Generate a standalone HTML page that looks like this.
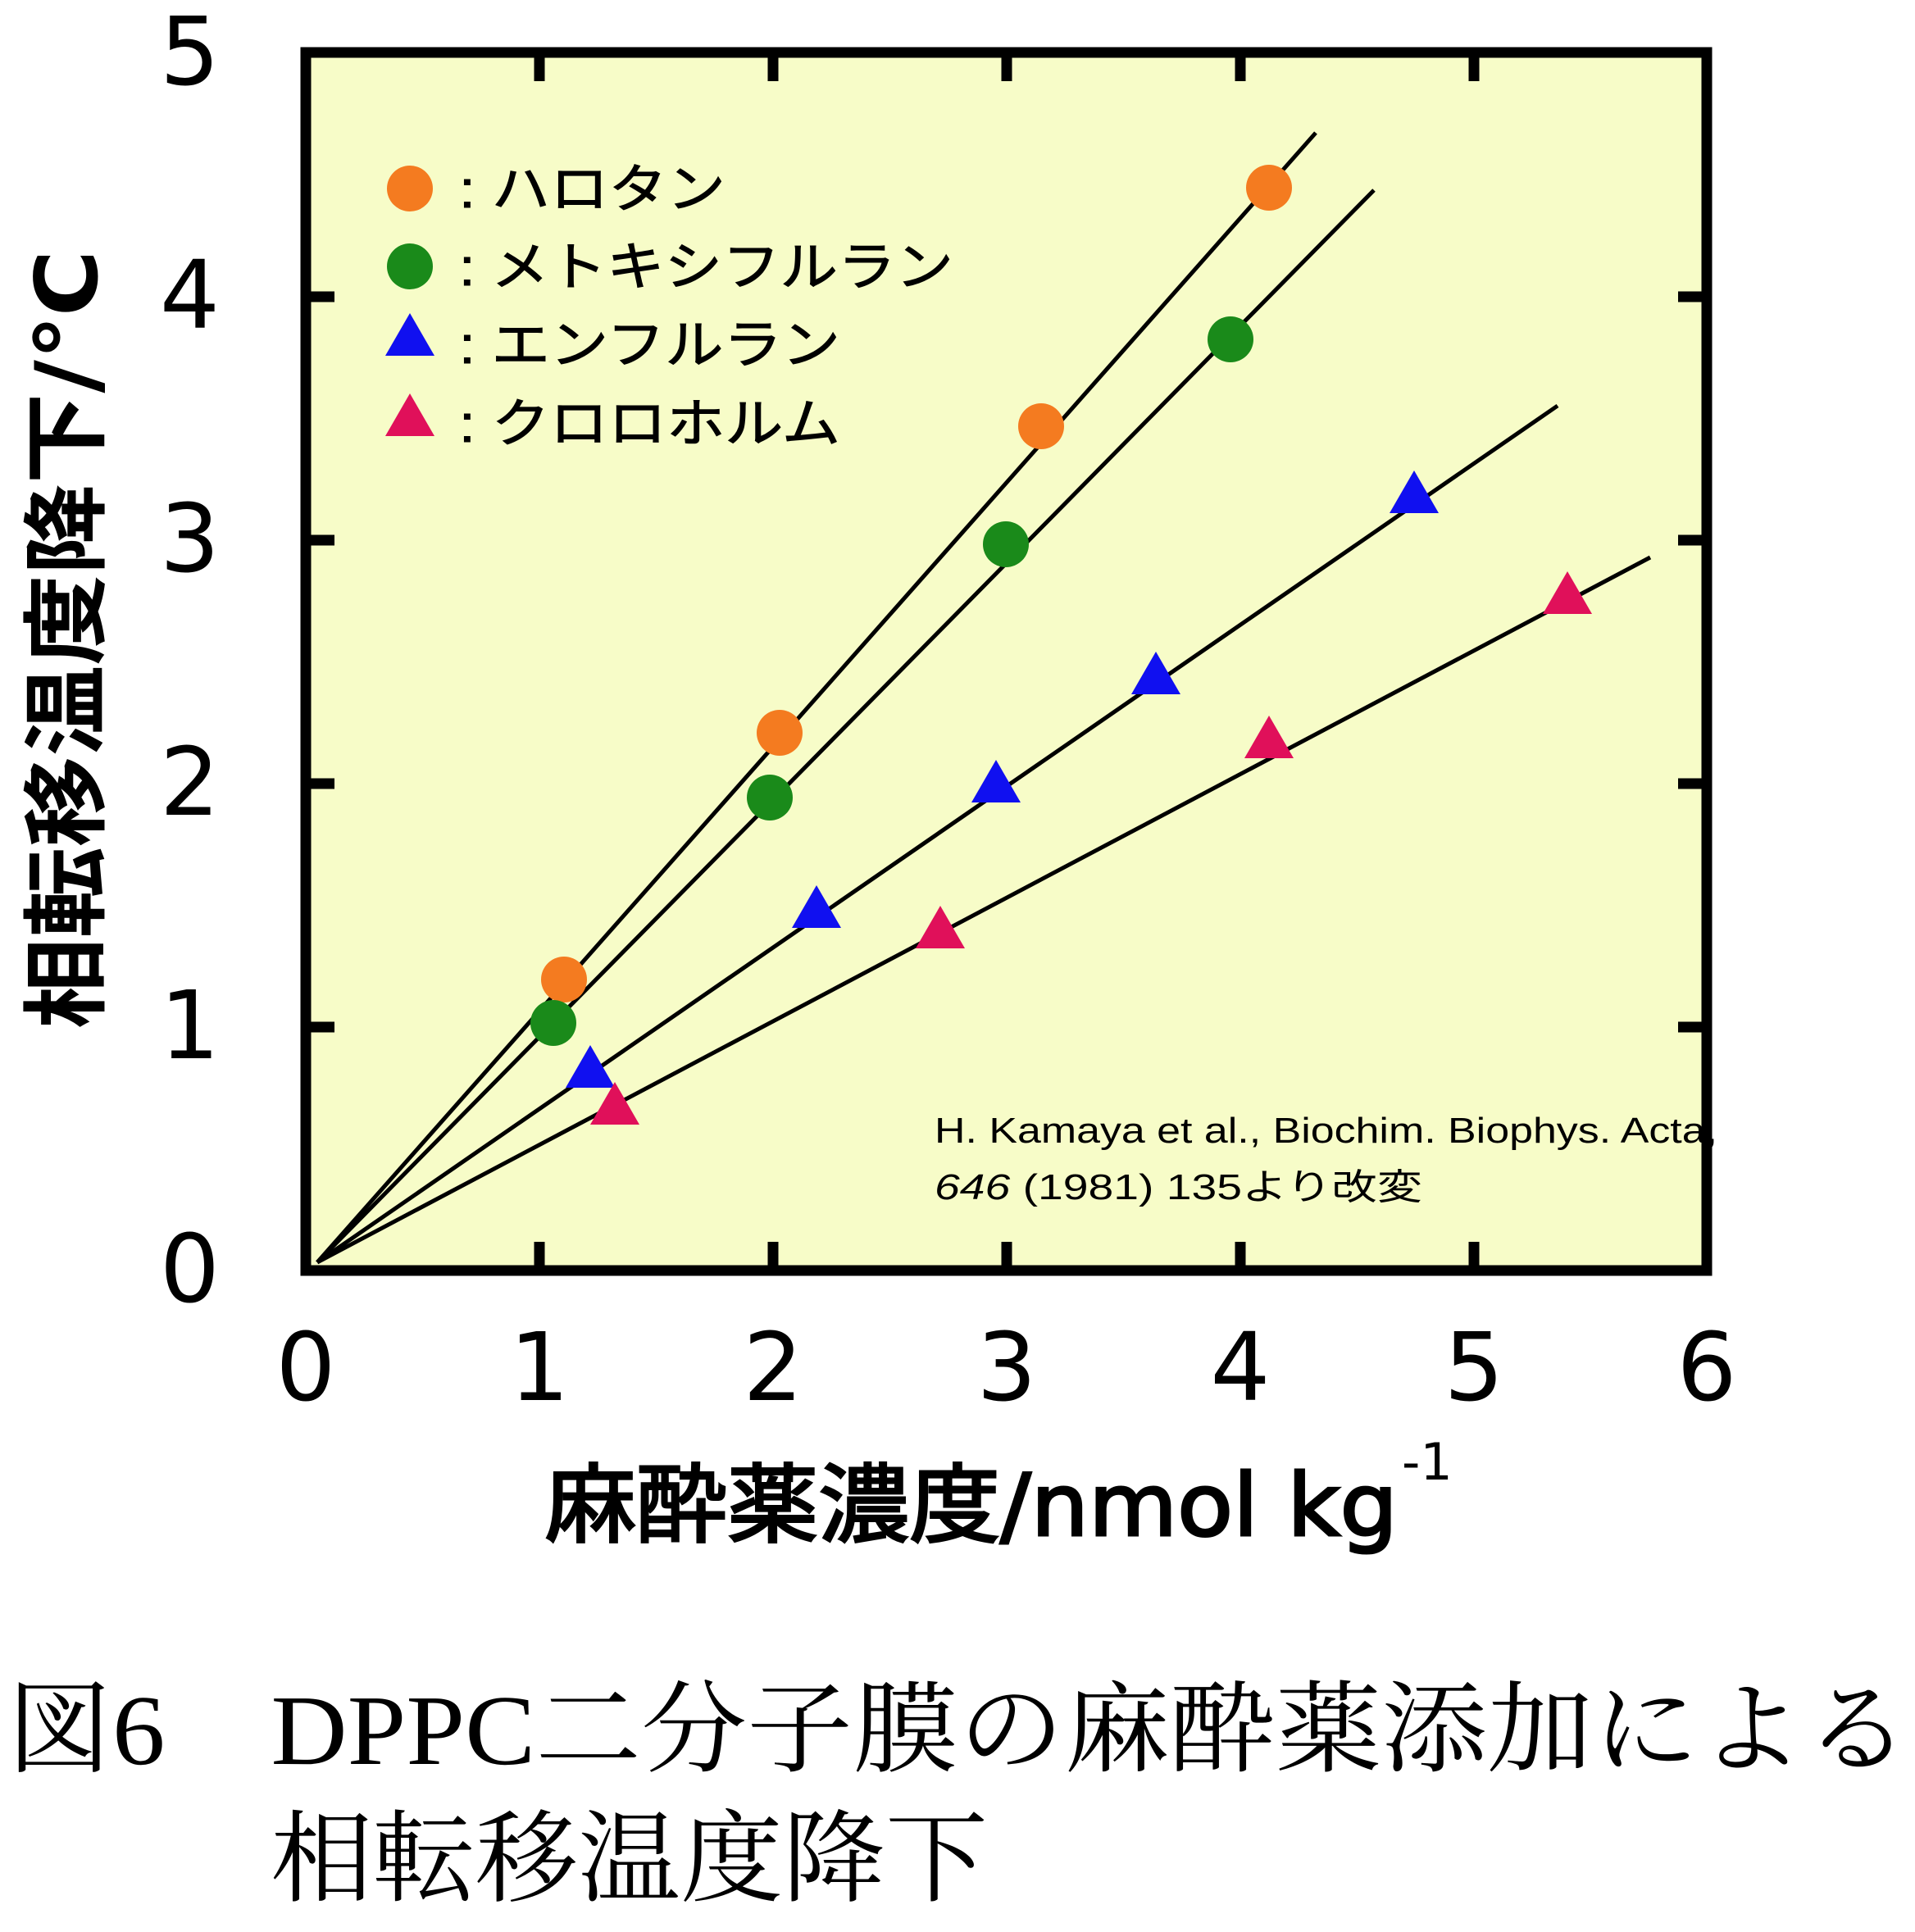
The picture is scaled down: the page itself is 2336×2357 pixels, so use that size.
<!DOCTYPE html>
<html><head><meta charset="utf-8"><style>html,body{margin:0;padding:0;background:#fff}svg{display:block}</style></head>
<body>
<svg width="2336" height="2357" viewBox="0 0 2336 2357" xmlns="http://www.w3.org/2000/svg">
<rect x="373" y="64" width="1709" height="1486" fill="#f7fcc8"/>
<g stroke="#000" stroke-width="13">
<line x1="658" y1="1550" x2="658" y2="1515"/><line x1="943" y1="1550" x2="943" y2="1515"/><line x1="1228" y1="1550" x2="1228" y2="1515"/><line x1="1513" y1="1550" x2="1513" y2="1515"/><line x1="1798" y1="1550" x2="1798" y2="1515"/>
<line x1="658" y1="64" x2="658" y2="99"/><line x1="943" y1="64" x2="943" y2="99"/><line x1="1228" y1="64" x2="1228" y2="99"/><line x1="1513" y1="64" x2="1513" y2="99"/><line x1="1798" y1="64" x2="1798" y2="99"/>
<line x1="373" y1="1253" x2="408" y2="1253"/><line x1="373" y1="956" x2="408" y2="956"/><line x1="373" y1="659" x2="408" y2="659"/><line x1="373" y1="362" x2="408" y2="362"/>
<line x1="2082" y1="1253" x2="2047" y2="1253"/><line x1="2082" y1="956" x2="2047" y2="956"/><line x1="2082" y1="659" x2="2047" y2="659"/><line x1="2082" y1="362" x2="2047" y2="362"/>
</g>
<g stroke="#000" stroke-width="5">
<line x1="387" y1="1540" x2="1605" y2="162"/>
<line x1="387" y1="1540" x2="1676" y2="232"/>
<line x1="387" y1="1540" x2="1900" y2="495"/>
<line x1="387" y1="1540" x2="2013" y2="680"/>
</g>
<g fill="#f47b20"><circle cx="688" cy="1195" r="28"/><circle cx="951" cy="894" r="28"/><circle cx="1270" cy="520" r="28"/><circle cx="1548" cy="229" r="28"/><circle cx="500" cy="230" r="28"/></g>
<g fill="#1a8a1a"><circle cx="675" cy="1248" r="28"/><circle cx="939" cy="973" r="28"/><circle cx="1227" cy="664" r="28"/><circle cx="1501" cy="414" r="28"/><circle cx="500" cy="325" r="28"/></g>
<defs><path id="tri" d="M0,-30 L30,22 L-30,22 Z"/></defs>
<g fill="#1010f0"><use href="#tri" x="720" y="1305"/><use href="#tri" x="996" y="1110"/><use href="#tri" x="1215" y="957"/><use href="#tri" x="1410" y="825"/><use href="#tri" x="1725" y="604"/><use href="#tri" x="500" y="412"/></g>
<g fill="#e0105a"><use href="#tri" x="750" y="1350"/><use href="#tri" x="1147" y="1135"/><use href="#tri" x="1548" y="903"/><use href="#tri" x="1912" y="727"/><use href="#tri" x="500" y="510"/></g>
<rect x="373" y="64" width="1709" height="1486" fill="none" stroke="#000" stroke-width="13"/>
<g font-family="Liberation Sans, 'Noto Sans CJK JP', sans-serif" font-size="64" fill="#000" stroke="#000" stroke-width="1">
<text x="560" y="253" textLength="325" lengthAdjust="spacingAndGlyphs">: ハロタン</text>
<text x="560" y="348" textLength="603" lengthAdjust="spacingAndGlyphs">: メトキシフルラン</text>
<text x="560" y="443" textLength="465" lengthAdjust="spacingAndGlyphs">: エンフルラン</text>
<text x="560" y="539" textLength="465" lengthAdjust="spacingAndGlyphs">: クロロホルム</text>
</g>
<g font-family="Liberation Sans, 'Noto Sans CJK JP', sans-serif" font-size="44" fill="#000">
<text x="1140" y="1394" textLength="955" lengthAdjust="spacingAndGlyphs">H. Kamaya et al., Biochim. Biophys. Acta,</text>
<text x="1140" y="1463" textLength="595" lengthAdjust="spacingAndGlyphs"><tspan font-style="italic">646</tspan> (1981) 135より改変</text>
</g>
<g font-family="DejaVu Sans, sans-serif" font-size="115" fill="#000" text-anchor="middle">
<text x="373" y="1708">0</text><text x="658" y="1708">1</text><text x="943" y="1708">2</text><text x="1228" y="1708">3</text><text x="1513" y="1708">4</text><text x="1798" y="1708">5</text><text x="2082" y="1708">6</text>
</g>
<g font-family="DejaVu Sans, sans-serif" font-size="115" fill="#000" text-anchor="end">
<text x="268" y="1588">0</text><text x="268" y="1291">1</text><text x="268" y="994">2</text><text x="268" y="697">3</text><text x="268" y="400">4</text><text x="268" y="103">5</text>
</g>
<text x="665" y="1873" font-family="DejaVu Sans, 'Noto Sans CJK JP', sans-serif" font-size="105" stroke="#000" stroke-width="3" textLength="1040" lengthAdjust="spacingAndGlyphs">麻酔薬濃度/nmol kg</text>
<text x="1710" y="1805" font-family="DejaVu Sans, sans-serif" font-size="62">-1</text>
<text transform="translate(118,780) rotate(-90)" text-anchor="middle" font-family="DejaVu Sans, 'Noto Sans CJK JP', sans-serif" font-size="105" font-weight="bold" textLength="950" lengthAdjust="spacingAndGlyphs">相転移温度降下/℃</text>
<g font-family="Liberation Serif, 'Noto Serif CJK SC', serif" font-size="122" fill="#000">
<text x="8" y="2152" textLength="2322" lengthAdjust="spacingAndGlyphs">図6　DPPC二分子膜の麻酔薬添加による</text>
<text x="330" y="2310" textLength="875" lengthAdjust="spacingAndGlyphs">相転移温度降下</text>
</g>
</svg>
</body></html>
